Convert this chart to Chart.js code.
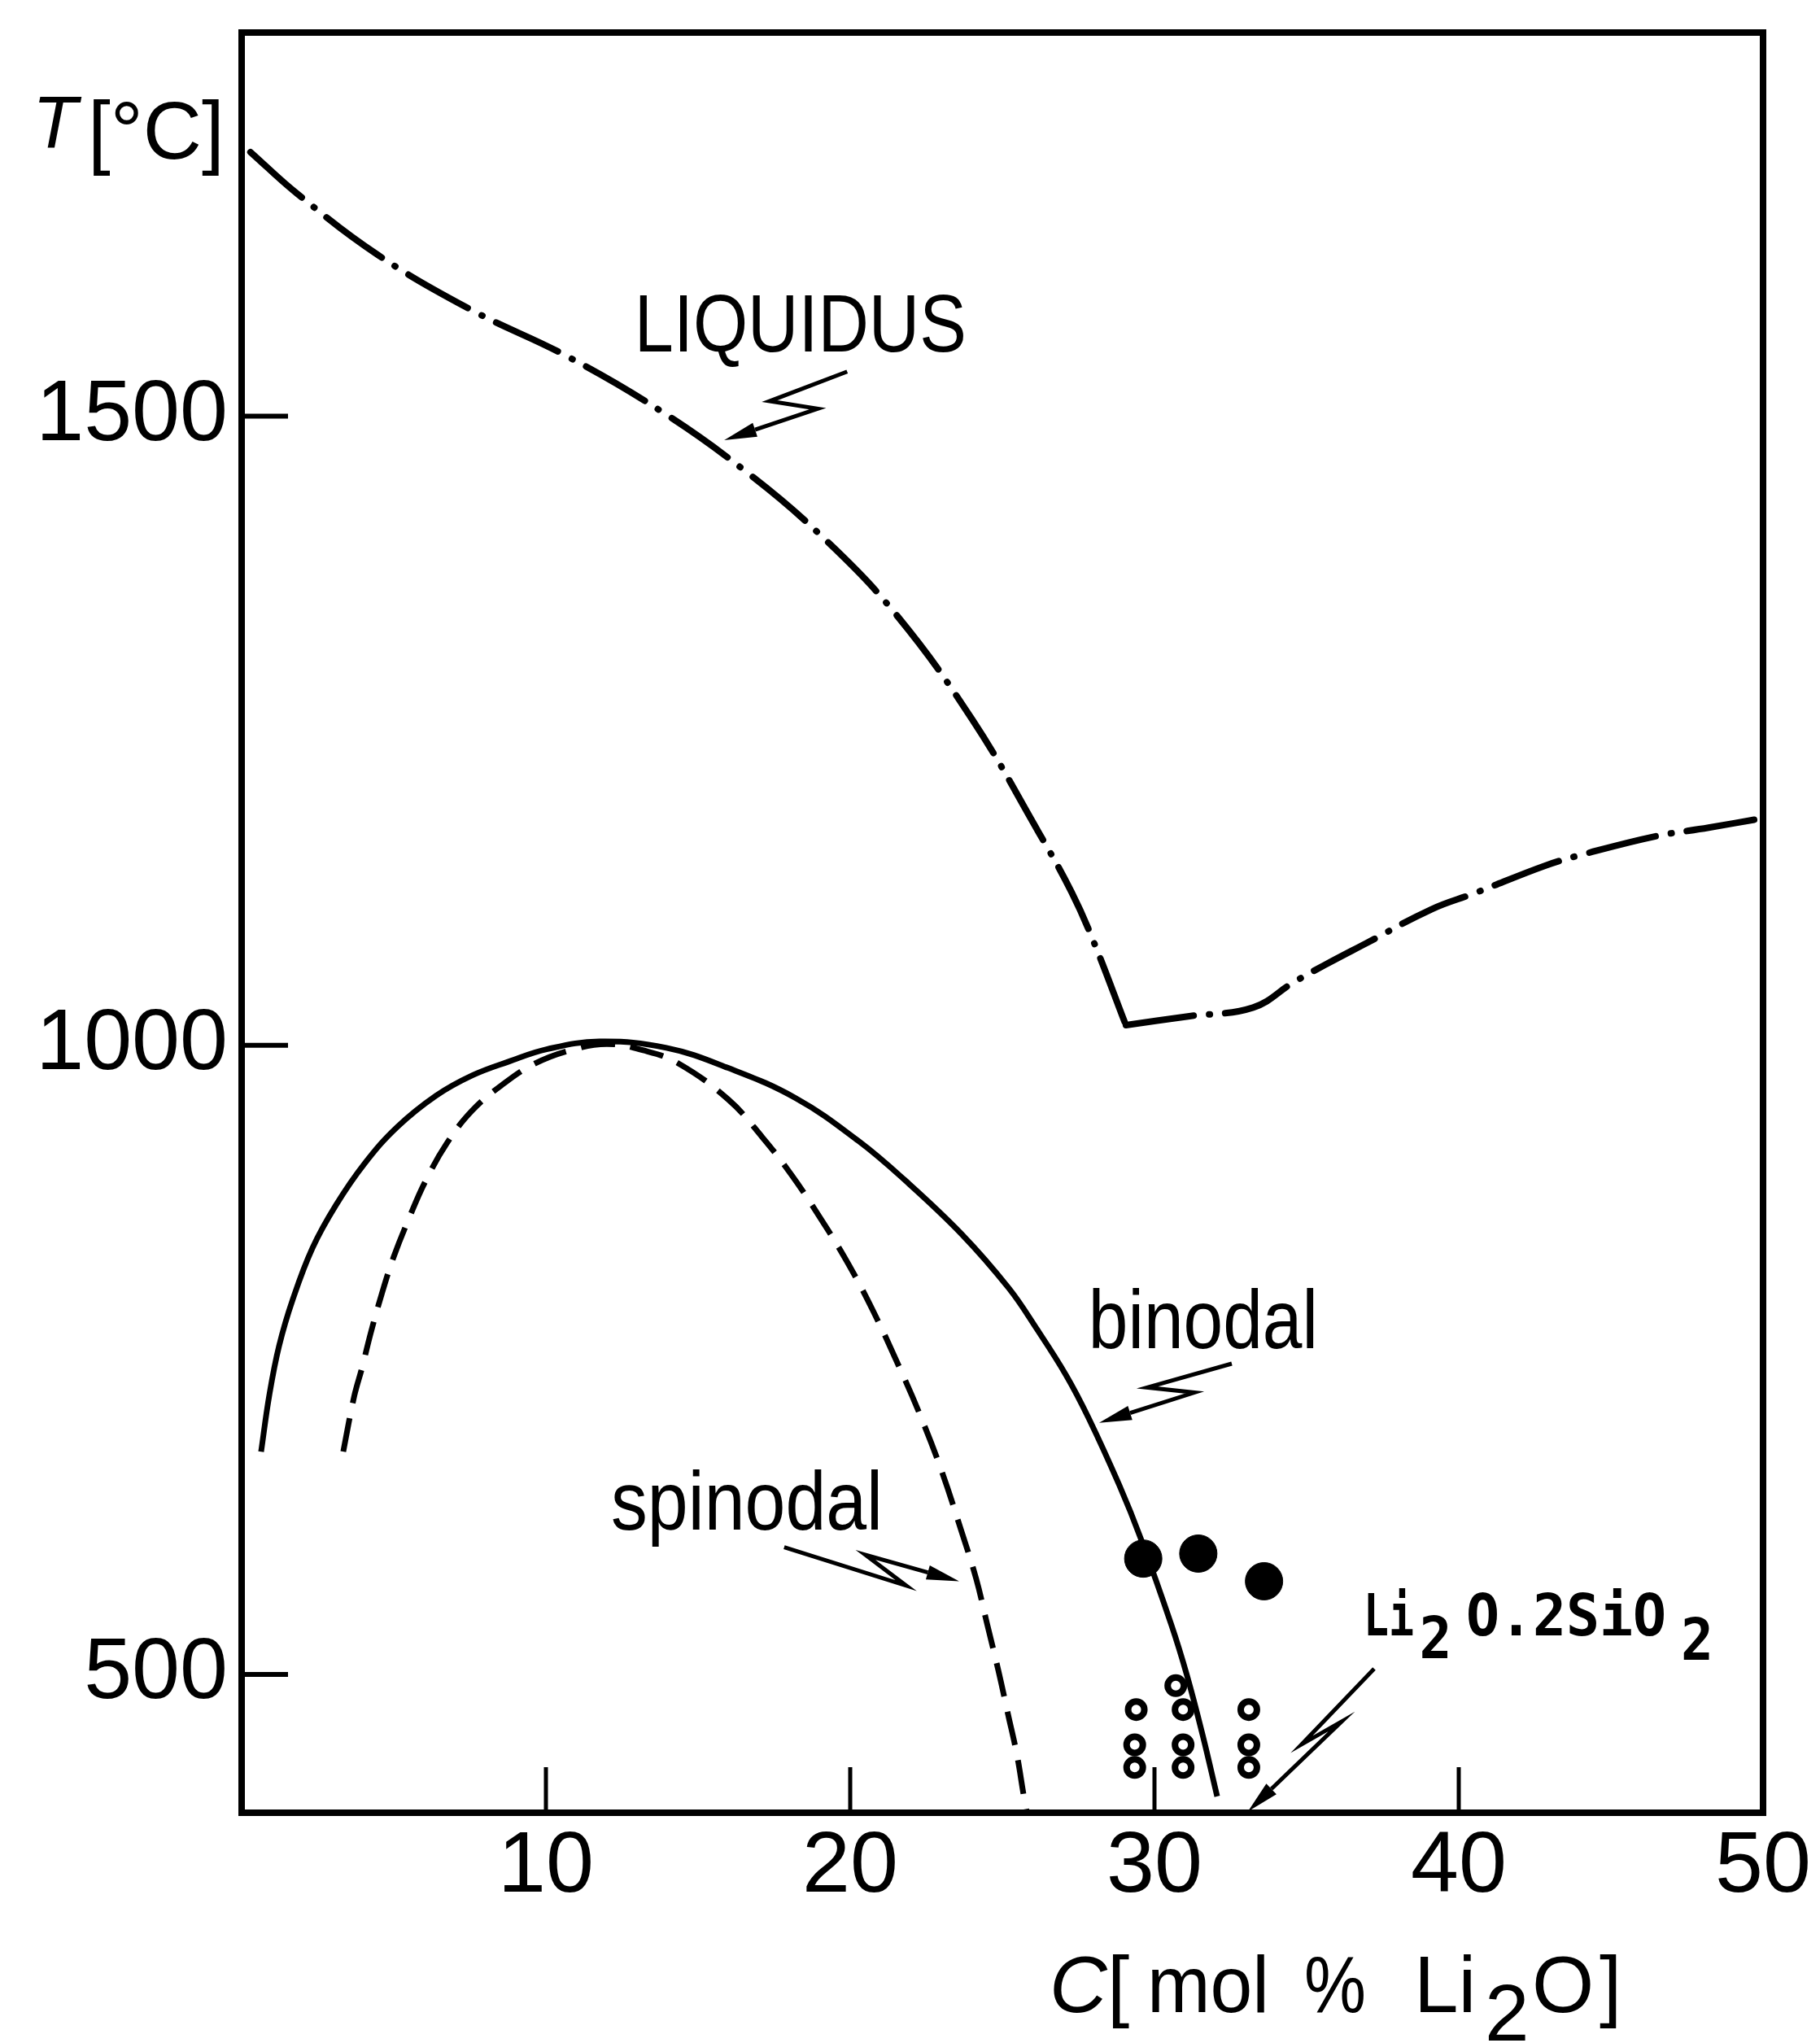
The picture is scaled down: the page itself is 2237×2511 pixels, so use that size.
<!DOCTYPE html>
<html>
<head>
<meta charset="utf-8">
<style>
html,body{margin:0;padding:0;background:#fff;}
canvas{display:block;}
</style>
<script src="https://cdn.jsdelivr.net/npm/chart.js@4/dist/chart.umd.min.js"></script>
</head>
<body>
<canvas id="c" width="2237" height="2511"></canvas>
<script>
// ---------------- data ----------------
const liquidusLeftC  = [0.29, 1.82, 4.49, 7.59, 10.67, 13.85, 16.63, 18.96, 21.42, 24.01, 26.20, 27.27, 27.99, 29.06];
const liquidusLeftT  = [1710, 1677, 1628, 1584, 1548, 1503, 1455, 1407, 1345, 1259, 1169, 1122, 1083, 1016];
const liquidusRightC = [29.06, 31.10, 33.24, 34.57, 35.61, 36.95, 39.09, 40.53, 42.86, 44.12, 46.44, 48.21, 49.87];
const liquidusRightT = [1016, 1023, 1030, 1050, 1064, 1081, 1108, 1121, 1143, 1152, 1166, 1173, 1180];

const binodalC = [0.64, 0.91, 1.23, 1.68, 2.33, 3.10, 4.04, 5.11, 6.39, 7.57, 8.77, 10.05, 11.76, 13.96, 15.99, 18.21, 20.27, 21.79, 23.66, 25.21, 26.12, 27.09, 27.83, 28.85, 29.55, 30.56, 31.07, 31.58, 32.06];
const binodalT = [677, 722, 761, 798, 839, 873, 906, 935, 960, 976, 987, 997, 1003, 998, 982, 958, 924, 893, 850, 807, 775, 738, 704, 650, 608, 539, 499, 452, 403];

const spinodalC = [3.34, 3.69, 3.96, 4.25, 4.60, 5.00, 5.51, 6.02, 6.74, 7.57, 8.53, 9.60, 10.8, 12.0, 13.2, 14.33, 15.99, 17.11, 18.07, 19.01, 19.92, 20.75, 21.58, 22.30, 23.00, 23.64, 24.14, 24.50, 24.87, 25.19, 25.48, 25.70, 25.80];
const spinodalT = [677, 720, 744, 772, 802, 832, 863, 891, 922, 948, 968, 985, 996, 1001, 996, 986, 957, 927, 897, 863, 827, 789, 746, 706, 662, 615, 576, 540, 503, 468, 436, 404, 391];

const filledC = [29.63, 31.44, 33.6];
const filledT = [592, 596, 574];

const openC = [29.4, 29.35, 29.35, 30.7, 30.94, 30.94, 30.94, 33.1, 33.1, 33.1];
const openT = [472, 444, 426, 491, 472, 444, 426, 472, 444, 426];

const xTickValues = [10, 20, 30, 40, 50];
const yTickValues = [500, 1000, 1500];

const xTitleParts = ['C', '[', 'mol', '%', 'Li', '2', 'O', ']'];
const yTitleParts = ['T', '[°C]'];

// ---------------- annotation layout (data coordinates) ----------------
const labelItems = [
  {text: 'LIQUIDUS', c: 12.91, t: 1551.5, font: '100px "Liberation Sans"', maxW: 408},
  {text: 'binodal',  c: 27.83, t: 759.3,  font: '102px "Liberation Sans"', maxW: 282},
  {text: 'spinodal', c: 12.14, t: 615,    font: '102px "Liberation Sans"', maxW: 334},
  {text: 'Li',       c: 36.87, t: 531,    font: 'bold 72px "DejaVu Sans Mono"', maxW: 62},
  {text: '2',        c: 38.70, t: 512.9,  font: 'bold 72px "DejaVu Sans Mono"', maxW: 40},
  {text: 'O.2SiO',   c: 40.24, t: 531,    font: 'bold 72px "DejaVu Sans Mono"', maxW: 246},
  {text: '2',        c: 47.3,  t: 511.6,  font: 'bold 72px "DejaVu Sans Mono"', maxW: 40}
];
const arrowPaths = [
  [[19.9, 1535.5], [17.35, 1512], [18.93, 1506], [15.86, 1481]],
  [[32.54, 747], [29.76, 728], [31.31, 724], [28.18, 700]],
  [[17.83, 601], [21.84, 570.5], [20.5, 595], [23.58, 574]],
  [[37.22, 504.5], [34.84, 444.4], [36.15, 462.5], [33.07, 391]]
];

const zip = (xs, ys) => xs.map((x, i) => ({x: x, y: ys[i]}));

const framePlugin = {
  id: 'frame',
  beforeDraw(chart) {
    const c = chart.ctx;
    c.save();
    c.fillStyle = '#fff';
    c.fillRect(0, 0, chart.width, chart.height);
    c.restore();
  },
  afterDraw(chart) {
    const ctx = chart.ctx, xs = chart.scales.x, ys = chart.scales.y, a = chart.chartArea;
    const px = v => xs.getPixelForValue(v), py = v => ys.getPixelForValue(v);
    ctx.save();
    ctx.strokeStyle = '#000';
    ctx.fillStyle = '#000';
    // frame
    ctx.lineWidth = 8;
    ctx.strokeRect(a.left, a.top, a.right - a.left, a.bottom - a.top);
    // inward ticks
    ctx.lineCap = 'butt';
    ctx.lineWidth = 6;
    ys.ticks.forEach(t => {
      const y = py(t.value);
      ctx.beginPath(); ctx.moveTo(a.left, y); ctx.lineTo(a.left + 57, y); ctx.stroke();
    });
    ctx.lineWidth = 5;
    xs.ticks.forEach(t => {
      if (t.value >= xs.max) return;
      const x = px(t.value);
      ctx.beginPath(); ctx.moveTo(x, a.bottom); ctx.lineTo(x, a.bottom - 56); ctx.stroke();
    });
    // zig-zag arrows
    arrowPaths.forEach(path => {
      const pts = path.map(p => [px(p[0]), py(p[1])]);
      const n = pts.length;
      const tip = pts[n - 1], prev = pts[n - 2];
      const dx = tip[0] - prev[0], dy = tip[1] - prev[1];
      const len = Math.hypot(dx, dy), ux = dx / len, uy = dy / len;
      const headL = 40, headW = 9;
      const base = [tip[0] - ux * headL, tip[1] - uy * headL];
      ctx.lineWidth = 5;
      ctx.lineJoin = 'miter';
      ctx.beginPath();
      ctx.moveTo(pts[0][0], pts[0][1]);
      for (let i = 1; i < n - 1; i++) ctx.lineTo(pts[i][0], pts[i][1]);
      ctx.lineTo(base[0], base[1]);
      ctx.stroke();
      ctx.beginPath();
      ctx.moveTo(tip[0], tip[1]);
      ctx.lineTo(base[0] - uy * headW, base[1] + ux * headW);
      ctx.lineTo(base[0] + uy * headW, base[1] - ux * headW);
      ctx.closePath();
      ctx.fill();
    });
    // labels
    ctx.textBaseline = 'alphabetic';
    ctx.textAlign = 'left';
    labelItems.forEach(l => {
      ctx.font = l.font;
      ctx.fillText(l.text, px(l.c), py(l.t), l.maxW);
    });
    // y-axis title
    ctx.font = 'italic 90px "Liberation Sans"';
    ctx.fillText(yTitleParts[0], 40, 182);
    ctx.font = '100px "Liberation Sans"';
    ctx.fillText(yTitleParts[1], 108, 195, 172);
    // x-axis title
    ctx.font = 'italic 98px "Liberation Sans"';
    ctx.fillText(xTitleParts[0], 1290, 2473);
    ctx.font = '98px "Liberation Sans"';
    ctx.fillText(xTitleParts[1], 1361, 2473);
    ctx.fillText(xTitleParts[2], 1410, 2473, 150);
    ctx.fillText(xTitleParts[3], 1603, 2473, 76);
    ctx.fillText(xTitleParts[4], 1738, 2473);
    ctx.fillText(xTitleParts[5], 1825, 2508);
    ctx.fillText(xTitleParts[6], 1883, 2473);
    ctx.fillText(xTitleParts[7], 1966, 2473);
    ctx.restore();
  }
};

const lineBase = {showLine: true, borderColor: '#000', pointRadius: 0, fill: false, tension: 0.4};

new Chart(document.getElementById('c'), {
  type: 'scatter',
  data: {
    datasets: [
      Object.assign({label: 'liquidus', data: zip(liquidusLeftC, liquidusLeftT), borderWidth: 8, borderDash: [84, 19, 1, 19], borderCapStyle: 'round'}, lineBase),
      Object.assign({label: 'liquidus (right)', data: zip(liquidusRightC, liquidusRightT), borderWidth: 8, borderDash: [84, 19, 1, 19], borderCapStyle: 'round'}, lineBase),
      Object.assign({label: 'binodal', data: zip(binodalC, binodalT), borderWidth: 7}, lineBase),
      Object.assign({label: 'spinodal', data: zip(spinodalC, spinodalT), borderWidth: 7, borderDash: [42, 19], borderCapStyle: 'butt'}, lineBase),
      {label: 'filled', data: zip(filledC, filledT), showLine: false, pointRadius: 23, pointBackgroundColor: '#000', pointBorderColor: '#000', pointBorderWidth: 1},
      {label: 'open', data: zip(openC, openT), showLine: false, pointRadius: 10, pointBackgroundColor: 'rgba(255,255,255,0)', pointBorderColor: '#000', pointBorderWidth: 8}
    ]
  },
  options: {
    responsive: false,
    animation: false,
    devicePixelRatio: 1,
    layout: {padding: {top: 40, right: 70, left: 0, bottom: 0}},
    plugins: {legend: {display: false}, tooltip: {enabled: false}},
    scales: {
      x: {
        type: 'linear', min: 0, max: 50,
        afterFit(s) { s.height = 283; s.paddingLeft = 0; s.paddingRight = 0; },
        afterBuildTicks(s) { s.ticks = xTickValues.map(v => ({value: v})); },
        grid: {display: false, drawTicks: false},
        border: {display: false},
        ticks: {font: {family: 'Liberation Sans', size: 106}, color: '#000', padding: 4, maxRotation: 0, autoSkip: false, callback: v => String(v)}
      },
      y: {
        type: 'linear', min: 390, max: 1805,
        afterFit(s) { s.width = 297; s.paddingTop = 0; s.paddingBottom = 0; },
        afterBuildTicks(s) { s.ticks = yTickValues.map(v => ({value: v})); },
        grid: {display: false, drawTicks: false},
        border: {display: false},
        ticks: {font: {family: 'Liberation Sans', size: 106}, color: '#000', padding: 17, autoSkip: false, callback: v => String(v)}
      }
    }
  },
  plugins: [framePlugin]
});
</script>
</body>
</html>
